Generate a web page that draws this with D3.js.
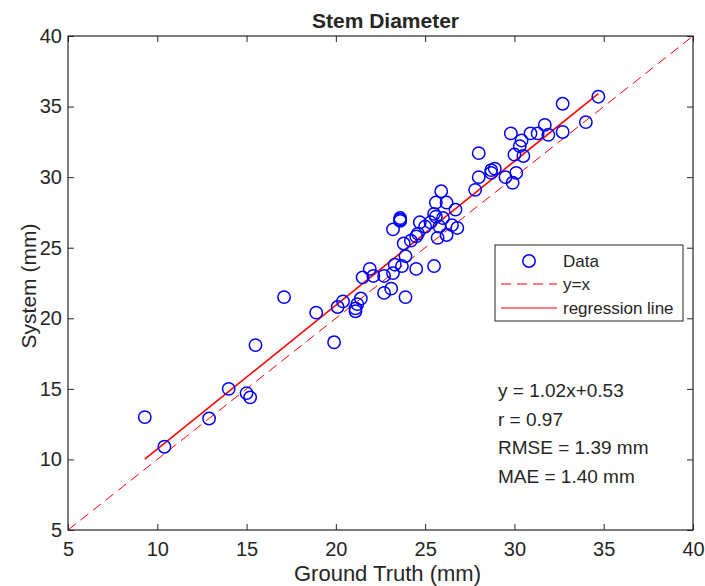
<!DOCTYPE html>
<html><head><meta charset="utf-8">
<script src="https://cdn.jsdelivr.net/npm/d3@7/dist/d3.min.js"></script>
<style>body{margin:0;background:#fff}svg{display:block}text{font-family:"Liberation Sans",Arial,Helvetica,sans-serif;fill:#262626}</style>
</head><body><svg id="c" width="705" height="586"></svg>
<script>
const groundTruth = [9.3,10.4,12.9,14.0,15.0,15.2,15.5,17.1,18.9,19.9,20.1,20.4,21.2,21.1,21.1,21.4,21.5,21.9,22.1,22.7,22.7,23.1,23.2,23.3,23.7,23.9,23.9,24.5,23.2,23.6,23.6,23.6,23.8,25.5,24.2,24.5,24.6,24.7,25.0,25.3,25.5,25.6,25.8,25.7,26.0,26.2,26.5,26.8,26.7,25.6,26.2,25.9,27.8,28.0,28.0,28.7,28.9,28.7,29.5,29.9,30.1,30.0,30.5,30.3,30.4,29.8,30.9,31.3,31.7,31.9,32.7,32.7,34.0,34.7];
const system = [13.0,10.9,12.9,15.0,14.7,14.4,18.1,21.5,20.4,18.3,20.8,21.2,21.0,20.7,20.5,21.4,22.9,23.5,23.0,21.8,23.0,22.1,23.2,23.8,23.7,21.5,24.4,23.5,26.3,26.9,27.0,27.1,25.3,23.7,25.5,25.8,26.0,26.8,26.5,26.8,27.4,27.2,26.5,25.7,27.1,25.9,26.6,26.4,27.7,28.2,28.2,29.0,29.1,30.0,31.7,30.5,30.6,30.3,30.0,29.6,30.3,31.6,31.5,32.2,32.6,33.1,33.1,33.1,33.7,33.0,33.2,35.2,33.9,35.7];
const xTicks = [5,10,15,20,25,30,35,40];
const yTicks = [5,10,15,20,25,30,35,40];
const slope = 1.02, intercept = 0.53;
const statsLines = ["y = 1.02x+0.53","r = 0.97","RMSE = 1.39 mm","MAE = 1.40 mm"];
const legendLabels = ["Data","y=x","regression line"];

const svg = d3.select("#c");
const L=68,R=693,T=36,B=530;
const x = d3.scaleLinear().domain([5,40]).range([L,R]);
const y = d3.scaleLinear().domain([5,40]).range([B,T]);
const ink="#262626";

const ax = (g,axis)=>{g.call(axis);g.select(".domain").remove();g.selectAll("line").attr("stroke",ink);};
svg.append("g").attr("transform",`translate(0,${B})`).call(g=>ax(g,d3.axisBottom(x).tickValues(xTicks).tickSize(-6).tickPadding(12)))
  .selectAll("text").attr("font-size",20).attr("fill",ink);
svg.append("g").attr("transform",`translate(0,${T})`).call(g=>ax(g,d3.axisTop(x).tickValues(xTicks).tickSize(-6).tickFormat("")));
svg.append("g").attr("transform",`translate(${L},0)`).call(g=>ax(g,d3.axisLeft(y).tickValues(yTicks).tickSize(-6).tickPadding(6)))
  .selectAll("text").attr("font-size",20).attr("fill",ink);
svg.append("g").attr("transform",`translate(${R},0)`).call(g=>ax(g,d3.axisRight(y).tickValues(yTicks).tickSize(-6).tickFormat("")));
svg.selectAll(".tick text").style("font-family",'"Liberation Sans",Arial,sans-serif');

svg.append("line").attr("x1",x(5)).attr("y1",y(5)).attr("x2",x(40)).attr("y2",y(40))
  .attr("stroke","#ff0000").attr("stroke-width",1).attr("stroke-dasharray","10,6");
const xmin=d3.min(groundTruth), xmax=d3.max(groundTruth);
svg.append("line").attr("x1",x(xmin)).attr("y1",y(slope*xmin+intercept)).attr("x2",x(xmax)).attr("y2",y(slope*xmax+intercept))
  .attr("stroke","#ff0000").attr("stroke-width",1.6);
svg.append("g").selectAll("circle").data(groundTruth).join("circle")
  .attr("cx",d=>x(d)).attr("cy",(d,i)=>y(system[i])).attr("r",6.2)
  .attr("fill","none").attr("stroke","#0000ff").attr("stroke-width",1.5);

svg.append("rect").attr("x",L).attr("y",T).attr("width",R-L).attr("height",B-T).attr("fill","none").attr("stroke",ink).attr("stroke-width",1.2);

svg.append("text").attr("x",(L+R)/2+5).attr("y",28).attr("text-anchor","middle").attr("font-size",21).attr("font-weight","bold").attr("fill","#000").text("Stem Diameter");
svg.append("text").attr("x",(L+R)/2+7).attr("y",581).attr("text-anchor","middle").attr("font-size",22).text("Ground Truth (mm)");
svg.append("text").attr("transform",`translate(36,${(T+B)/2+3}) rotate(-90)`).attr("text-anchor","middle").attr("font-size",21).text("System (mm)");

const lg = svg.append("g");
lg.append("rect").attr("x",495).attr("y",245).attr("width",188).attr("height",76).attr("fill","#fff").attr("stroke",ink).attr("stroke-width",1);
lg.append("circle").attr("cx",529).attr("cy",261).attr("r",6.2).attr("fill","none").attr("stroke","#0000ff").attr("stroke-width",1.5);
lg.append("line").attr("x1",501).attr("x2",557).attr("y1",284).attr("y2",284).attr("stroke","#ff0000").attr("stroke-dasharray","10,6");
lg.append("line").attr("x1",501).attr("x2",557).attr("y1",308).attr("y2",308).attr("stroke","#ff0000").attr("stroke-width",1);
lg.selectAll("text.l").data(legendLabels).join("text").attr("class","l").attr("x",563).attr("y",(d,i)=>[261,284,308][i]+6).attr("font-size",17).attr("fill","#000").text(d=>d);

svg.append("g").selectAll("text").data(statsLines).join("text").attr("x",498).attr("y",(d,i)=>397+i*28.7).attr("font-size",19).attr("fill","#000").text(d=>d);
</script></body></html>
